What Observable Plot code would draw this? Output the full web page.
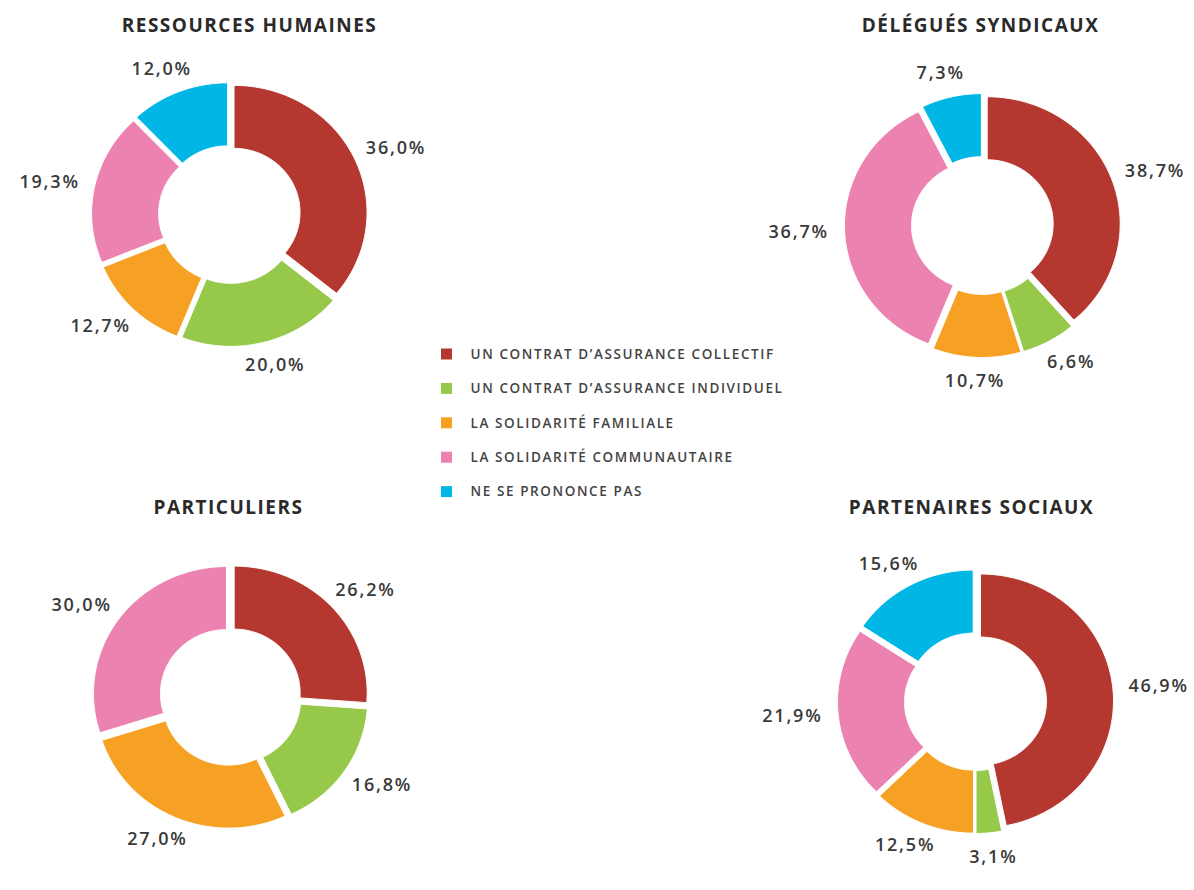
<!DOCTYPE html>
<html><head><meta charset="utf-8">
<script src="https://cdn.jsdelivr.net/npm/d3@7"></script>
<script src="https://cdn.jsdelivr.net/npm/@observablehq/plot@0.6"></script>
<style>
body{margin:0;background:#fff;}
#chart svg{display:block;}
</style>
</head><body><div id="chart"></div>
<script>
// ---- data ----
const categories = ["UN CONTRAT D’ASSURANCE COLLECTIF", "UN CONTRAT D’ASSURANCE INDIVIDUEL", "LA SOLIDARITÉ FAMILIALE", "LA SOLIDARITÉ COMMUNAUTAIRE", "NE SE PRONONCE PAS"];
const colors = ["#B4382F", "#96C94A", "#F7A124", "#EB82AF", "#00B6E4"];
const groups = ["RESSOURCES HUMAINES", "DÉLÉGUÉS SYNDICAUX", "PARTICULIERS", "PARTENAIRES SOCIAUX"];
const ressourcesHumaines = [36.0, 20.0, 12.7, 19.3, 12.0];
const deleguesSyndicaux = [38.7, 6.6, 10.7, 36.7, 7.3];
const particuliers = [26.2, 16.8, 27.0, 30.0, 0];
const partenairesSociaux = [46.9, 3.1, 12.5, 21.9, 15.6];
const seriesValues = [ressourcesHumaines, deleguesSyndicaux, particuliers, partenairesSociaux];

// ---- layout ----
const W = 1194, H = 890;
const panels = [
  {cx: 229, cy: 214, tx: 249, ty: 25},
  {cx: 982, cy: 225, tx: 980, ty: 25},
  {cx: 230, cy: 696, tx: 228, ty: 507},
  {cx: 975, cy: 701, tx: 971, ty: 507}
];
const RX = 133, RY = 127, IRX = 66, IRY = 64, EXPLODE = 5, LRX = 184, LRY = 156;
const legendLayout = {x: 441, y0: 354, dy: 34.4, size: 11, tx: 470};

// ---- build geometry from values ----
const slicePts = [];
const labels = [];
seriesValues.forEach((vals, gi) => {
  const p = panels[gi];
  const total = d3.sum(vals);
  let acc = 0;
  vals.forEach((v, ci) => {
    if (!(v > 0)) { acc += v; return; }
    const a0 = acc / total * 2 * Math.PI;
    acc += v;
    const a1 = acc / total * 2 * Math.PI;
    const mid = (a0 + a1) / 2;
    const ox = EXPLODE * Math.sin(mid), oy = -EXPLODE * Math.cos(mid);
    const n = Math.max(2, Math.ceil((a1 - a0) / 0.015));
    const id = gi + "-" + ci;
    const pts = [];
    for (let i = 0; i <= n; i++) {
      const a = a0 + (a1 - a0) * i / n;
      pts.push([p.cx + ox + RX * Math.sin(a), p.cy + oy - RY * Math.cos(a)]);
    }
    for (let i = n; i >= 0; i--) {
      const a = a0 + (a1 - a0) * i / n;
      pts.push([p.cx + ox + IRX * Math.sin(a), p.cy + oy - IRY * Math.cos(a)]);
    }
    pts.push(pts[0]);
    pts.forEach(([x, y]) => slicePts.push({id, category: categories[ci], x, y}));
    labels.push({
      x: p.cx + LRX * Math.sin(mid),
      y: p.cy - LRY * Math.cos(mid),
      text: v.toFixed(1).replace(".", ",") + "%"
    });
  });
});
const titles = groups.map((g, i) => ({x: panels[i].tx, y: panels[i].ty, text: g}));
const legend = categories.map((c, i) => ({
  category: c,
  y: legendLayout.y0 + i * legendLayout.dy,
  x1: legendLayout.x, x2: legendLayout.x + legendLayout.size,
  tx: legendLayout.tx
}));

const chart = Plot.plot({
  width: W, height: H,
  margin: 0,
  style: {fontFamily: "'Open Sans', sans-serif", background: "#fff"},
  x: {domain: [0, W], range: [0, W], axis: null},
  y: {domain: [0, H], range: [0, H], axis: null},
  color: {domain: categories, range: colors},
  marks: [
    Plot.line(slicePts, {x: "x", y: "y", z: "id", fill: "category", stroke: "white", strokeWidth: 1, curve: "linear"}),
    Plot.text(labels, {x: "x", y: "y", text: "text", fontSize: 18, fontWeight: 600, fill: "#3a3a3a"}),
    Plot.text(titles, {x: "x", y: "y", text: "text", fontSize: 19, fontWeight: 700, fill: "#2a2a2a"}),
    Plot.rect(legend, {x1: "x1", x2: "x2", y1: d => d.y - legendLayout.size / 2, y2: d => d.y + legendLayout.size / 2, fill: "category"}),
    Plot.text(legend, {x: "tx", y: "y", text: "category", textAnchor: "start", fontSize: 13.5, fontWeight: 600, fill: "#444"})
  ]
});
const spacing = {"18": "1.8px", "19": "1.5px", "13.5": "1.6px"};
d3.select(chart).selectAll("g[font-size]").each(function() {
  const ls = spacing[this.getAttribute("font-size")];
  if (ls) this.style.letterSpacing = ls;
});
document.getElementById("chart").append(chart);
</script>
</body></html>
